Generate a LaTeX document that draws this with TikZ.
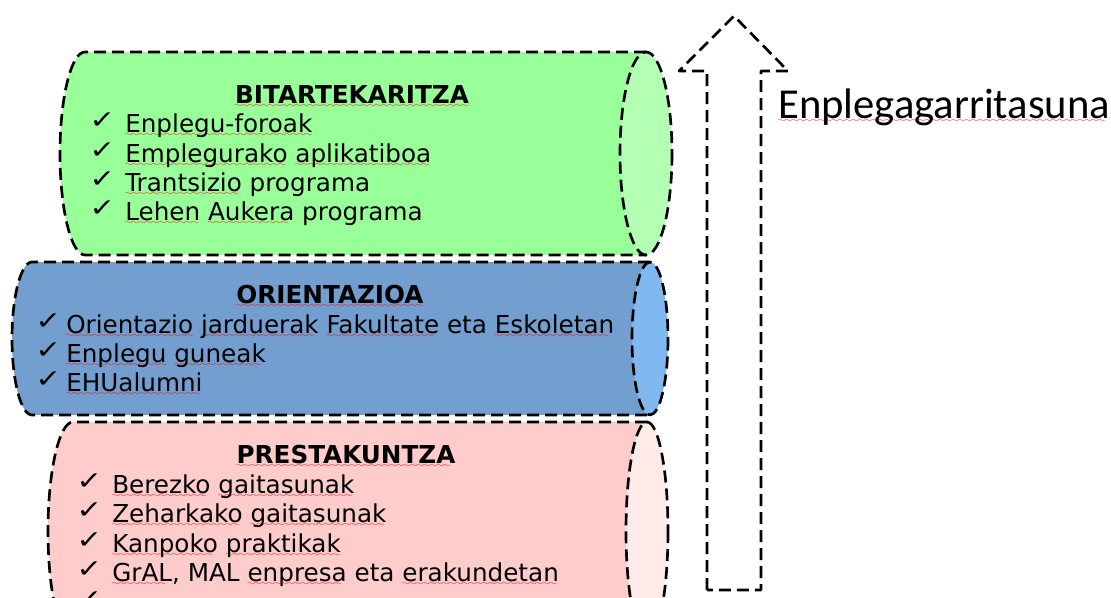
\documentclass[tikz,border=0pt]{standalone}
\usepackage{fontspec}
\usepackage{graphicx}
\setmainfont{DejaVu Sans}
\newfontfamily\calib{Carlito}
\font\myly=lasy6
\newsavebox\sqbox
\newcommand\sq[1]{\leavevmode\sbox\sqbox{#1}\rlap{\textcolor{red}{\lower3.3pt\hbox to \wd\sqbox{\leaders\hbox{\myly\char58}\hfill}}}\usebox\sqbox}
\newcommand\ck{\raisebox{3pt}{\scalebox{1.55}[1.25]{✓}}}
\definecolor{gbody}{HTML}{99FF99}
\definecolor{gend}{HTML}{B3FFB3}
\definecolor{bbody}{HTML}{729FCF}
\definecolor{bend}{HTML}{80B8F0}
\definecolor{pbody}{HTML}{FFCCCC}
\definecolor{pend}{HTML}{FFEAEA}
\tikzset{
  dsh/.style={line width=2pt, dash pattern=on 9pt off 4.5pt, line join=round},
  item/.style={anchor=base west, inner sep=0pt, font=\fontsize{18.5}{22}\selectfont},
  head/.style={anchor=base, inner sep=0pt, font=\bfseries\fontsize{18.5}{22}\selectfont},
  chk/.style={anchor=base west, inner sep=0pt, font=\fontsize{15}{18}\selectfont},
}
\begin{document}
\begin{tikzpicture}[x=0.75pt,y=-0.75pt]
\useasboundingbox (0,0) rectangle (1111,597);
% ---- green cylinder
\fill[gbody] (85,52) rectangle (646,255);
\fill[gbody] (85,153.5) ellipse[x radius=25,y radius=101.5];
\filldraw[dsh, fill=gend] (646,153.5) ellipse[x radius=26,y radius=101.5];
\draw[dsh] (646,52) -- (85,52) arc[start angle=270,end angle=90,x radius=25,y radius=101.5] -- (646,255);
% ---- blue cylinder
\fill[bbody] (32,262) rectangle (650,415);
\fill[bbody] (32,338.5) ellipse[x radius=20,y radius=76.5];
\filldraw[dsh, fill=bend] (650,338.5) ellipse[x radius=18,y radius=76.5];
\draw[dsh] (650,262) -- (32,262) arc[start angle=270,end angle=90,x radius=20,y radius=76.5] -- (650,415);
% ---- pink cylinder
\fill[pbody] (73,422) rectangle (647,640);
\fill[pbody] (73,531) ellipse[x radius=25,y radius=109];
\filldraw[dsh, fill=pend] (647,531) ellipse[x radius=21,y radius=109];
\draw[dsh] (647,422) -- (73,422) arc[start angle=270,end angle=90,x radius=25,y radius=109] -- (647,640);
% ---- arrow
\draw[dsh] (707,590) -- (707,71) -- (679,71) -- (734,16) -- (788,71) -- (761,71) -- (761,590) -- cycle;
\node[anchor=base west, inner sep=0pt, font=\calib\fontsize{32}{36}\selectfont] (lab) at (778,118) {\sq{Enplegagarritasuna}};
% ---- green texts
\node[head] (gh) at (352,103) {\sq{BITARTEKARITZA}};
\node[chk] (gc1) at (89,132) {\ck};
\node[item] (g1) at (125,132) {\sq{Enplegu-foroak}};
\node[chk] (gc2) at (89,162) {\ck};
\node[item] (g2) at (125,162) {\sq{Emplegurako} \sq{aplikatiboa}};
\node[chk] (gc3) at (89,191) {\ck};
\node[item] (g3) at (125,191) {\sq{Trantsizio} programa};
\node[chk] (gc4) at (89,220) {\ck};
\node[item] (g4) at (125,220) {\sq{Lehen} \sq{Aukera} programa};
% ---- blue texts
\node[head] (bh) at (330,303) {\sq{ORIENTAZIOA}};
\node[chk] (bc1) at (35,333) {\ck};
\node[item] (b1) at (66,333) {\sq{Orientazio} \sq{jarduerak} \sq{Fakultate} eta \sq{Eskoletan}};
\node[chk] (bc2) at (35,362) {\ck};
\node[item] (b2) at (66,362) {\sq{Enplegu} \sq{guneak}};
\node[chk] (bc3) at (35,391) {\ck};
\node[item] (b3) at (66,391) {\sq{EHUalumni}};
% ---- pink texts
\node[head] (ph) at (346,463) {\sq{PRESTAKUNTZA}};
\node[chk] (pc1) at (76,493) {\ck};
\node[item] (p1) at (112,493) {\sq{Berezko} \sq{gaitasunak}};
\node[chk] (pc2) at (76,522) {\ck};
\node[item] (p2) at (112,522) {\sq{Zeharkako} \sq{gaitasunak}};
\node[chk] (pc3) at (76,552) {\ck};
\node[item] (p3) at (112,552) {\sq{Kanpoko} \sq{praktikak}};
\node[chk] (pc4) at (76,581) {\ck};
\node[item] (p4) at (112,581) {\sq{GrAL}, MAL \sq{enpresa} eta \sq{erakundetan}};
\node[chk] (pc5) at (76,611) {\ck};
\end{tikzpicture}
\end{document}
